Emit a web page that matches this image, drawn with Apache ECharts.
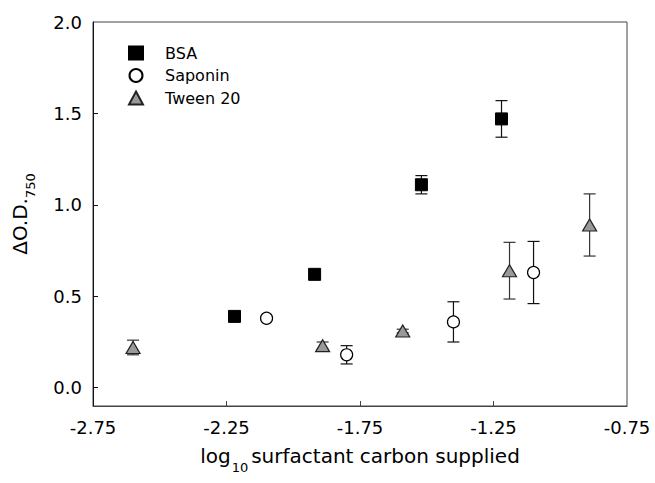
<!DOCTYPE html>
<html>
<head>
<meta charset="utf-8">
<script src="https://cdn.jsdelivr.net/npm/echarts@6/dist/echarts.min.js"></script>
<style>html,body{margin:0;padding:0;background:#fff}#c{width:655px;height:483px}</style>
</head>
<body>
<div id="c"></div>
<script>
// ---- data ----
const bsaX = [-2.22, -1.92, -1.52, -1.22];
const bsaY = [0.39, 0.62, 1.11, 1.47];
const bsaErr = [0.01, 0.02, 0.05, 0.10];

const sapX = [-2.10, -1.80, -1.40, -1.10];
const sapY = [0.38, 0.18, 0.36, 0.63];
const sapErr = [0.01, 0.05, 0.11, 0.17];

const twX = [-2.60, -1.89, -1.59, -1.19, -0.89];
const twY = [0.22, 0.23, 0.31, 0.64, 0.89];
const twErr = [0.04, 0.02, 0.01, 0.155, 0.17];

const xTicks = [-2.75, -2.25, -1.75, -1.25, -0.75];
const yTicks = [0.0, 0.5, 1.0, 1.5, 2.0];

const FONT = '"DejaVu Sans", Arial, sans-serif';

function pts(xs, ys) { return xs.map((x, i) => [x, ys[i]]); }
function errPts(xs, ys, es) { return xs.map((x, i) => [x, ys[i], es[i]]); }

function makeErrRender(color) {
  return function (params, api) {
    const x = api.value(0), y = api.value(1), e = api.value(2);
    const t = api.coord([x, y + e]);
    const b = api.coord([x, y - e]);
    const hw = 6;
    const st = { stroke: color, lineWidth: 1.2 };
    return {
      type: 'group',
      children: [
        { type: 'line', shape: { x1: t[0], y1: t[1], x2: b[0], y2: b[1] }, style: st },
        { type: 'line', shape: { x1: t[0] - hw, y1: t[1], x2: t[0] + hw, y2: t[1] }, style: st },
        { type: 'line', shape: { x1: b[0] - hw, y1: b[1], x2: b[0] + hw, y2: b[1] }, style: st }
      ]
    };
  };
}

const chart = echarts.init(document.getElementById('c'), null, { renderer: 'svg' });
chart.setOption({
  animation: false,
  backgroundColor: '#fff',
  textStyle: { fontFamily: FONT },
  grid: { left: 93, right: 28, top: 22, bottom: 77, show: true, borderColor: '#444', borderWidth: 1, backgroundColor: 'transparent' },
  legend: {
    orient: 'vertical', left: 128, top: 45, padding: 0,
    itemWidth: 14, itemHeight: 13, itemGap: 6.5,
    textStyle: { fontFamily: FONT, fontSize: 16, color: '#000', padding: [0, 0, 0, 17] },
    data: ['BSA', 'Saponin', 'Tween 20']
  },
  xAxis: {
    type: 'value', min: -2.75, max: -0.75,
    axisLine: { show: true, onZero: false, lineStyle: { color: '#444', width: 1 } },
    splitLine: { show: false },
    axisTick: { show: true, inside: true, length: 5, customValues: [-2.25, -1.75, -1.25], lineStyle: { color: '#444' } },
    axisLabel: { customValues: xTicks, margin: 12, fontSize: 18, color: '#000', fontFamily: FONT, formatter: v => v.toFixed(2) },
    name: '{a|log}{s|10}{a|surfactant carbon supplied}',
    nameLocation: 'middle', nameGap: 32,
    nameTextStyle: {
      rich: {
        a: { fontSize: 20, fontFamily: FONT, color: '#000', lineHeight: 36 },
        s: { fontSize: 13, fontFamily: FONT, color: '#000', lineHeight: 13, verticalAlign: 'bottom', padding: [0, 3, 0, 1] }
      }
    }
  },
  yAxis: {
    type: 'value', min: -0.1, max: 2.0,
    axisLine: { show: true, onZero: false, lineStyle: { color: '#111', width: 1 } },
    splitLine: { show: false },
    axisTick: { show: true, inside: true, length: 5, customValues: [0, 0.5, 1.0, 1.5], lineStyle: { color: '#111' } },
    axisLabel: { customValues: yTicks, margin: 11, fontSize: 18, color: '#000', fontFamily: FONT, formatter: v => v.toFixed(1) },
    name: '{a|ΔO.D.}{s|750}',
    nameLocation: 'middle', nameGap: 56, nameRotate: 90,
    nameTextStyle: {
      rich: {
        a: { fontSize: 20, fontFamily: FONT, color: '#000', lineHeight: 34 },
        s: { fontSize: 13, fontFamily: FONT, color: '#000', lineHeight: 13, verticalAlign: 'bottom' }
      }
    }
  },
  series: [
    { type: 'custom', name: 'errBSA', renderItem: makeErrRender('#111'), data: errPts(bsaX, bsaY, bsaErr), z: 1, silent: true },
    { type: 'custom', name: 'errSap', renderItem: makeErrRender('#111'), data: errPts(sapX, sapY, sapErr), z: 1, silent: true },
    { type: 'custom', name: 'errTw', renderItem: makeErrRender('#333'), data: errPts(twX, twY, twErr), z: 1, silent: true },
    { type: 'scatter', name: 'BSA', symbol: 'rect', symbolSize: 12, data: pts(bsaX, bsaY), z: 3,
      itemStyle: { color: '#000', borderColor: '#000', borderWidth: 1, opacity: 1 } },
    { type: 'scatter', name: 'Saponin', symbol: 'circle', symbolSize: 12, data: pts(sapX, sapY), z: 3,
      itemStyle: { color: '#fff', borderColor: '#000', borderWidth: 1.2, opacity: 1 } },
    { type: 'scatter', name: 'Tween 20', symbol: 'triangle', symbolSize: [14, 12], data: pts(twX, twY), z: 3,
      itemStyle: { color: '#999', borderColor: '#222', borderWidth: 1.2, opacity: 1 } }
  ]
});
</script>
</body>
</html>
